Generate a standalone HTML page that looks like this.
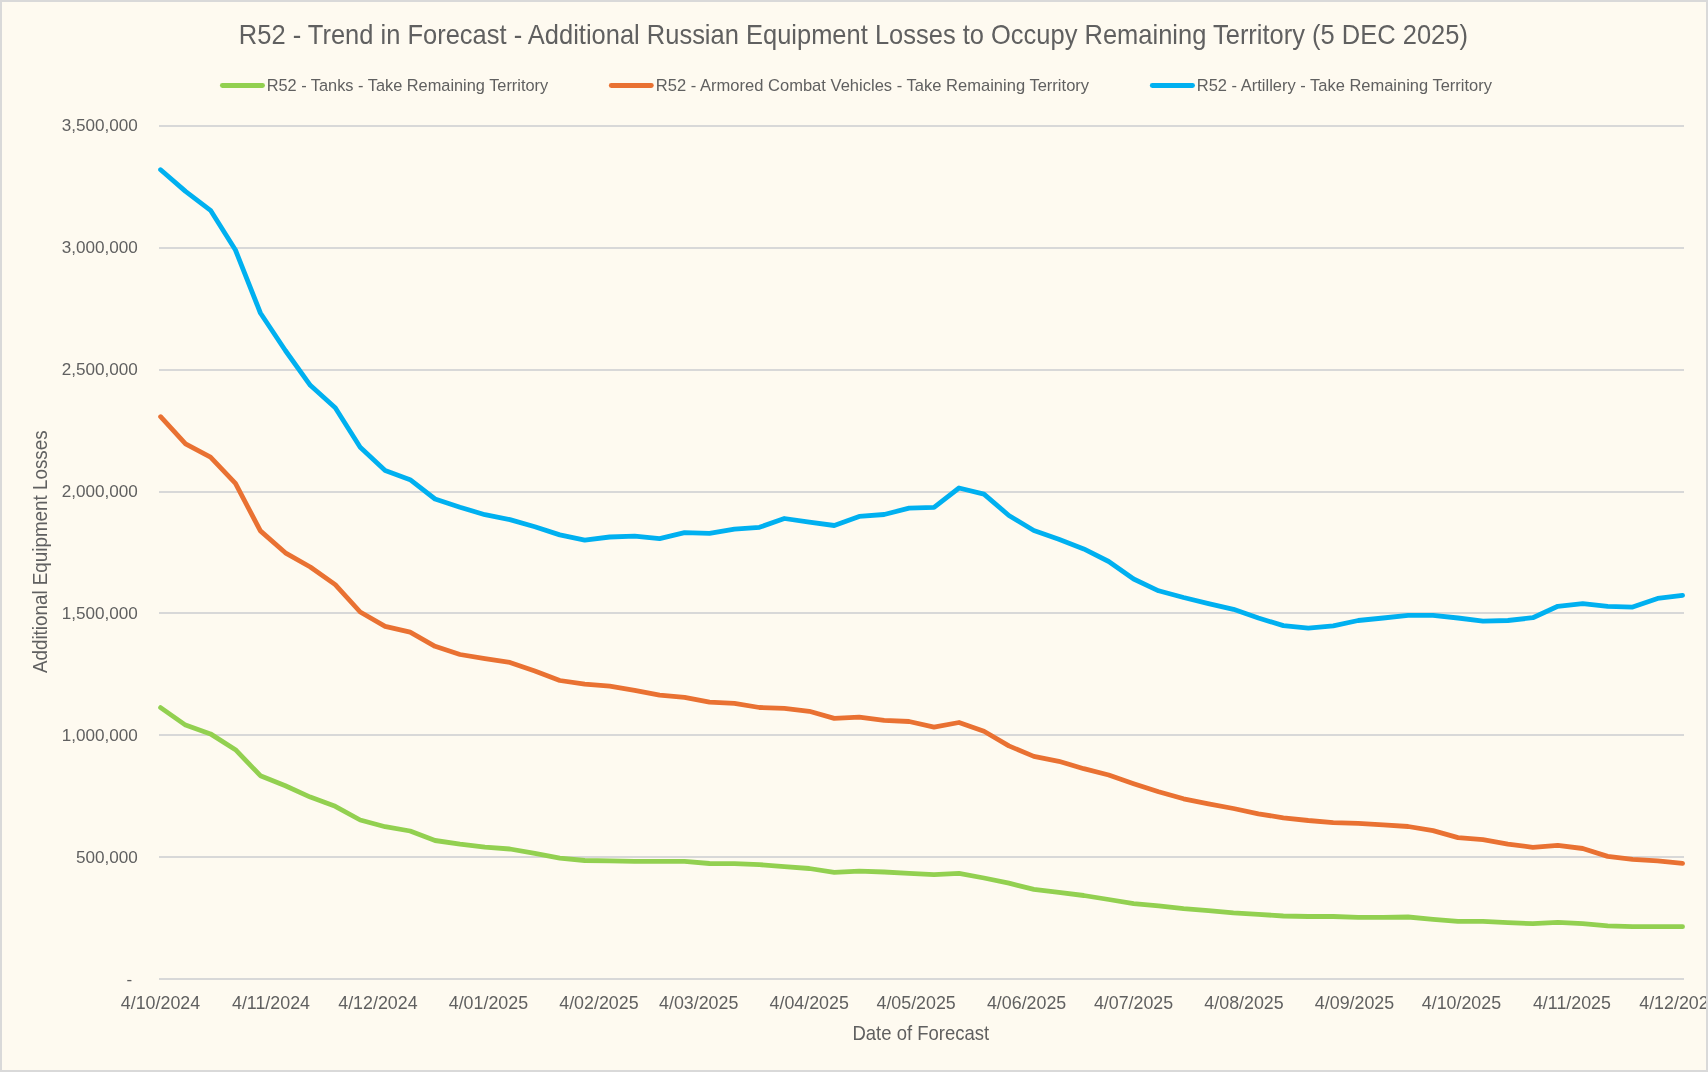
<!DOCTYPE html>
<html><head><meta charset="utf-8"><title>R52 - Trend in Forecast</title>
<style>
html,body{margin:0;padding:0;background:#FEFAF0;}
body{width:1708px;height:1072px;overflow:hidden;}
svg{display:block;will-change:transform;}
text{font-family:"Liberation Sans",Arial,sans-serif;fill:#606060;}
</style></head>
<body>
<svg width="1708" height="1072" viewBox="0 0 1708 1072">
<rect x="0" y="0" width="1708" height="1072" fill="#FEFAF0"/>
<g fill="#D8D8D8" shape-rendering="crispEdges">
<rect x="159" y="125" width="1525" height="2"/>
<rect x="159" y="247" width="1525" height="2"/>
<rect x="159" y="369" width="1525" height="2"/>
<rect x="159" y="491" width="1525" height="2"/>
<rect x="159" y="612" width="1525" height="2"/>
<rect x="159" y="734" width="1525" height="2"/>
<rect x="159" y="856" width="1525" height="2"/>
<rect x="159" y="978" width="1525" height="2"/>
</g>
<text transform="translate(853.37,44.00) scale(0.9357,1)" font-size="27.25" text-anchor="middle">R52 - Trend in Forecast - Additional Russian Equipment Losses to Occupy Remaining Territory (5 DEC 2025)</text>
<g stroke-linecap="round" stroke-width="4.9">
<line x1="222.4" x2="262.5" y1="85.55" y2="85.55" stroke="#92D050"/>
<line x1="611.3" x2="651.3" y1="85.55" y2="85.55" stroke="#E97132"/>
<line x1="1152.3" x2="1192.5" y1="85.55" y2="85.55" stroke="#00B0F0"/>
</g>
<text transform="translate(266.65,91.00) scale(0.9394,1)" font-size="17.4">R52 - Tanks - Take Remaining Territory</text>
<text transform="translate(655.87,91.00) scale(0.9511,1)" font-size="17.4">R52 - Armored Combat Vehicles - Take Remaining Territory</text>
<text transform="translate(1196.81,91.00) scale(0.9476,1)" font-size="17.4">R52 - Artillery - Take Remaining Territory</text>
<text transform="translate(137.88,131.10) scale(1.0010,1)" font-size="17.1" text-anchor="end">3,500,000</text>
<text transform="translate(137.88,253.03) scale(1.0010,1)" font-size="17.1" text-anchor="end">3,000,000</text>
<text transform="translate(137.88,374.96) scale(1.0010,1)" font-size="17.1" text-anchor="end">2,500,000</text>
<text transform="translate(137.88,496.89) scale(1.0010,1)" font-size="17.1" text-anchor="end">2,000,000</text>
<text transform="translate(137.88,618.82) scale(1.0010,1)" font-size="17.1" text-anchor="end">1,500,000</text>
<text transform="translate(137.88,740.75) scale(1.0010,1)" font-size="17.1" text-anchor="end">1,000,000</text>
<text transform="translate(137.88,862.68) scale(1.0010,1)" font-size="17.1" text-anchor="end">500,000</text>
<text transform="translate(132.10,984.70) scale(1.0000,1)" font-size="17.1" text-anchor="end">-</text>
<text transform="translate(160.50,1009.00) scale(1.0200,1)" font-size="17.5" text-anchor="middle">4/10/2024</text>
<text transform="translate(270.99,1009.00) scale(1.0200,1)" font-size="17.5" text-anchor="middle">4/11/2024</text>
<text transform="translate(377.92,1009.00) scale(1.0200,1)" font-size="17.5" text-anchor="middle">4/12/2024</text>
<text transform="translate(488.41,1009.00) scale(1.0200,1)" font-size="17.5" text-anchor="middle">4/01/2025</text>
<text transform="translate(598.91,1009.00) scale(1.0200,1)" font-size="17.5" text-anchor="middle">4/02/2025</text>
<text transform="translate(698.71,1009.00) scale(1.0200,1)" font-size="17.5" text-anchor="middle">4/03/2025</text>
<text transform="translate(809.20,1009.00) scale(1.0200,1)" font-size="17.5" text-anchor="middle">4/04/2025</text>
<text transform="translate(916.13,1009.00) scale(1.0200,1)" font-size="17.5" text-anchor="middle">4/05/2025</text>
<text transform="translate(1026.62,1009.00) scale(1.0200,1)" font-size="17.5" text-anchor="middle">4/06/2025</text>
<text transform="translate(1133.55,1009.00) scale(1.0200,1)" font-size="17.5" text-anchor="middle">4/07/2025</text>
<text transform="translate(1244.04,1009.00) scale(1.0200,1)" font-size="17.5" text-anchor="middle">4/08/2025</text>
<text transform="translate(1354.54,1009.00) scale(1.0200,1)" font-size="17.5" text-anchor="middle">4/09/2025</text>
<text transform="translate(1461.46,1009.00) scale(1.0200,1)" font-size="17.5" text-anchor="middle">4/10/2025</text>
<text transform="translate(1571.96,1009.00) scale(1.0200,1)" font-size="17.5" text-anchor="middle">4/11/2025</text>
<text transform="translate(1678.89,1009.00) scale(1.0200,1)" font-size="17.5" text-anchor="middle">4/12/2025</text>
<text transform="translate(920.77,1040.20) scale(0.9114,1)" font-size="20.3" text-anchor="middle">Date of Forecast</text>
<g transform="translate(47.0,551.717) rotate(-90)"><text transform="translate(0.00,0.00) scale(0.9419,1)" font-size="20.0" text-anchor="middle">Additional Equipment Losses</text></g>
<g fill="none" stroke-width="4.8" stroke-linejoin="round" stroke-linecap="round">
<polyline stroke="#92D050" points="160.60,707.60 185.55,725.10 210.50,733.90 235.45,749.70 260.40,775.70 285.35,785.70 310.30,797.10 335.25,806.30 360.20,820.00 385.15,826.70 410.10,831.00 435.05,840.50 460.00,844.10 484.95,847.10 509.90,849.00 534.85,853.40 559.80,858.20 584.75,860.50 609.70,860.80 634.65,861.30 659.60,861.30 684.55,861.30 709.50,863.50 734.45,863.60 759.40,864.60 784.35,866.70 809.30,868.50 834.25,872.40 859.20,871.10 884.15,872.00 909.10,873.40 934.05,874.70 959.00,873.40 983.95,878.00 1008.90,883.20 1033.85,889.40 1058.80,892.40 1083.75,895.50 1108.70,899.50 1133.65,903.70 1158.60,905.80 1183.55,908.60 1208.50,910.60 1233.45,912.80 1258.40,914.40 1283.35,916.00 1308.30,916.50 1333.25,916.50 1358.20,917.40 1383.15,917.40 1408.10,917.00 1433.05,919.30 1458.00,921.40 1482.95,921.40 1507.90,922.60 1532.85,923.70 1557.80,922.30 1582.75,923.70 1607.70,925.80 1632.65,926.70 1657.60,926.70 1682.55,926.70"/>
<polyline stroke="#E97132" points="160.60,416.70 185.55,443.90 210.50,457.10 235.45,483.40 260.40,530.90 285.35,552.80 310.30,567.00 335.25,584.60 360.20,612.00 385.15,626.40 410.10,632.20 435.05,646.30 460.00,654.50 484.95,658.60 509.90,662.40 534.85,670.90 559.80,680.50 584.75,684.20 609.70,686.20 634.65,690.30 659.60,695.20 684.55,697.30 709.50,702.20 734.45,703.40 759.40,707.50 784.35,708.40 809.30,711.30 834.25,718.40 859.20,717.20 884.15,720.40 909.10,721.50 934.05,727.10 959.00,722.50 983.95,731.30 1008.90,745.90 1033.85,756.40 1058.80,761.30 1083.75,768.70 1108.70,775.00 1133.65,783.70 1158.60,791.80 1183.55,798.80 1208.50,803.80 1233.45,808.50 1258.40,813.80 1283.35,817.80 1308.30,820.50 1333.25,822.60 1358.20,823.40 1383.15,824.90 1408.10,826.50 1433.05,830.60 1458.00,837.60 1482.95,839.70 1507.90,844.10 1532.85,847.30 1557.80,845.30 1582.75,848.50 1607.70,856.40 1632.65,859.40 1657.60,860.80 1682.55,863.40"/>
<polyline stroke="#00B0F0" points="160.60,169.70 185.55,191.40 210.50,210.30 235.45,250.00 260.40,313.00 285.35,350.50 310.30,385.30 335.25,407.70 360.20,447.20 385.15,470.60 410.10,479.70 435.05,499.00 460.00,507.30 484.95,514.70 509.90,519.60 534.85,526.70 559.80,534.90 584.75,540.20 609.70,537.00 634.65,536.10 659.60,538.70 684.55,532.60 709.50,533.40 734.45,529.10 759.40,527.30 784.35,518.50 809.30,522.20 834.25,525.50 859.20,516.40 884.15,514.50 909.10,508.20 934.05,507.30 959.00,488.00 983.95,494.10 1008.90,515.50 1033.85,530.50 1058.80,539.20 1083.75,548.90 1108.70,561.50 1133.65,579.00 1158.60,590.80 1183.55,597.50 1208.50,603.60 1233.45,609.30 1258.40,618.00 1283.35,625.60 1308.30,628.20 1333.25,625.90 1358.20,620.50 1383.15,618.00 1408.10,615.40 1433.05,615.40 1458.00,618.00 1482.95,621.20 1507.90,620.50 1532.85,617.70 1557.80,606.30 1582.75,603.60 1607.70,606.30 1632.65,607.10 1657.60,598.40 1682.55,595.40"/>
</g>
<rect x="1" y="1" width="1706" height="1070" fill="none" stroke="#D9D9D9" stroke-width="2"/>
</svg>
</body></html>
